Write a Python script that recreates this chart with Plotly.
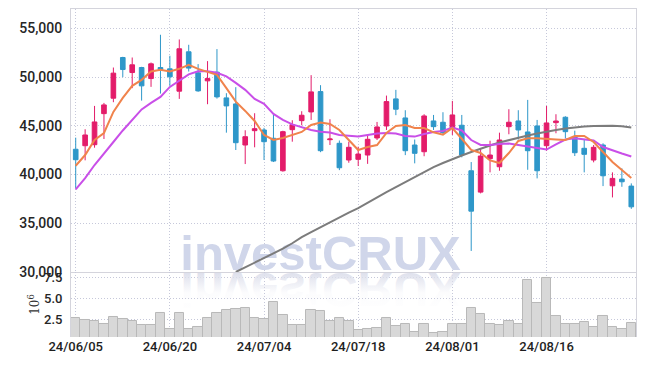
import plotly.graph_objects as go
from plotly.subplots import make_subplots

dates = [
    "24/06/05", "24/06/07", "24/06/10", "24/06/11", "24/06/12", "24/06/13", "24/06/14",
    "24/06/17", "24/06/18", "24/06/19", "24/06/20", "24/06/21", "24/06/24", "24/06/25",
    "24/06/26", "24/06/27", "24/06/28",
    "24/07/01", "24/07/02", "24/07/03", "24/07/04", "24/07/05", "24/07/08", "24/07/09",
    "24/07/10", "24/07/11", "24/07/12", "24/07/15", "24/07/16", "24/07/17", "24/07/18",
    "24/07/19", "24/07/22", "24/07/23", "24/07/24", "24/07/25", "24/07/26", "24/07/29",
    "24/07/30", "24/07/31",
    "24/08/01", "24/08/02", "24/08/05", "24/08/06", "24/08/07", "24/08/08", "24/08/09",
    "24/08/12", "24/08/13", "24/08/14", "24/08/16", "24/08/19", "24/08/20", "24/08/21",
    "24/08/22", "24/08/23", "24/08/26", "24/08/27", "24/08/28", "24/08/29",
]

open_ = [42600, 42965, 43068, 46258, 47843, 52021, 50477, 50992, 49860, 50992,
         50858, 48563, 52607, 50446, 49623, 50518, 47874, 47256, 43037, 44509,
         44581, 43727, 40393, 44612, 45538, 46433, 48522, 43583, 43212, 41494,
         41566, 42008, 43758, 44992, 47771, 45816, 43037, 42348, 45507, 45373,
         44786, 45064, 40393, 38201, 41628, 40805, 44920, 45507, 44375, 44993,
         42965, 45332, 45888, 43892, 42698, 41494, 43037, 38849, 39539, 38819]
high = [43790, 44653, 47050, 47359, 50992, 52093, 52021, 51064, 51506, 54356,
        52196, 53873, 53327, 51341, 51650, 52885, 48357, 48975, 44550, 46300,
        44800, 46227, 44500, 45580, 46505, 50209, 49180, 45682, 43500, 43377,
        42863, 44050, 45404, 48110, 48700, 46608, 43600, 46196, 46124, 46402,
        47565, 46124, 41288, 42698, 43480, 44303, 46711, 46608, 47668, 45610,
        47050, 46196, 45990, 44509, 43624, 43037, 43212, 40228, 40640, 39096]
low = [38580, 41463, 42760, 43655, 47431, 50003, 48872, 47596, 49006, 48316,
       49109, 47771, 50580, 48500, 47225, 47802, 44303, 42523, 41082, 42800,
       41494, 41288, 40300, 43377, 45064, 45610, 42300, 43037, 40460, 41216,
       40877, 41100, 43550, 44580, 46100, 42000, 41154, 41885, 44580, 44066,
       44066, 41772, 32161, 38068, 40228, 40393, 44138, 43600, 40493, 39611,
       42451, 44241, 43727, 41905, 40228, 41257, 38819, 37656, 38746, 36483]
close = [41525, 44066, 45404, 47153, 50415, 50786, 51270, 49109, 51372, 50786,
         50035, 52916, 50930, 48594, 49860, 47976, 47050, 43274, 43892, 44715,
         43377, 41391, 44406, 45126, 46093, 48491, 42451, 43652, 40702, 42800,
         42111, 43624, 44890, 47493, 46711, 42451, 42181, 46021, 44920, 44303,
         46124, 42008, 36246, 41905, 42008, 43552, 45373, 44581, 42451, 40393,
         45301, 45500, 44406, 42245, 42080, 42800, 39878, 39611, 39261, 36689]

ma_short = [40907, 42008, 43552, 44272, 46433, 47874, 49109, 49726, 50580, 50755,
            50580, 50858, 51270, 50858, 50549, 50240, 48872, 47493, 46536, 45507,
            44066, 43552, 43758, 44066, 44375, 45096, 45353, 45198, 44580, 43552,
            42523, 42832, 43037, 44272, 44992, 45096, 44786, 44786, 44340, 44100,
            44786, 43680, 42523, 42214, 41454, 41185, 42214, 43449, 43727, 43727,
            43700, 43600, 43552, 43963, 43963, 43346, 42317, 41288, 40465, 39640]
ma_mid = [38480, 39640, 40980, 42215, 43346, 44530, 45610, 46690, 47360, 47977,
          49000, 49620, 50290, 50600, 50600, 50450, 50090, 49420, 48700, 47770,
          47256, 46227, 45610, 45150, 44890, 44580, 44400, 44320, 44066, 43963,
          43900, 44066, 44220, 44270, 44220, 43963, 43900, 44170, 44375, 44480,
          44820, 44530, 43550, 43040, 43040, 43140, 43190, 43040, 42880, 42680,
          42570, 43090, 43600, 43730, 43650, 43500, 42830, 42470, 42160, 41850]
ma_long = [None] * 17 + [
    30000, 30480, 30950, 31360, 31870, 32390, 32950, 33570, 34085, 34600,
    35060, 35630, 36090, 36555, 37120, 37635, 38200, 38715, 39230, 39800,
    40310, 40775, 41185, 41600, 41957, 42317, 42677, 42986, 43295, 43552,
    43810, 44015, 44220, 44426, 44580, 44735, 44860, 44940, 44990, 45010,
    45020, 44960, 44840]

volume = [2.60, 2.40, 2.28, 1.88, 2.72, 2.48, 2.28, 1.76, 1.76, 3.20,
          1.28, 3.20, 1.28, 1.52, 2.60, 3.20, 3.56, 3.68, 3.80, 2.60,
          2.48, 4.52, 2.96, 1.76, 1.76, 3.56, 3.48, 2.25, 2.60, 2.28,
          1.20, 1.32, 1.40, 2.60, 1.68, 1.92, 0.96, 1.92, 0.84, 0.96,
          1.92, 1.92, 3.80, 3.12, 1.92, 1.76, 2.28, 1.92, 7.19, 4.44,
          7.40, 2.88, 1.92, 1.92, 2.16, 1.56, 2.84, 1.56, 1.32, 2.04]

tick_dates = ["24/06/05", "24/06/20", "24/07/04", "24/07/18", "24/08/01", "24/08/16"]
price_ticks = [30000, 35000, 40000, 45000, 50000, 55000]
vol_ticks = [2.5, 5.0, 7.5]

WATERMARK = "investCRUX"
WM_X = dates[26]
WM_PRICE_Y = 31435
WM_VOL_Y = 9.51

FONT = "Roboto, DejaVu Sans, sans-serif"
GRID = "#c6c8da"
FRAME = "#d4d4dc"

fig = make_subplots(rows=2, cols=1, shared_xaxes=True, vertical_spacing=0,
                    row_heights=[0.8018, 0.1982])

fig.add_trace(go.Scatter(x=[WM_X], y=[WM_PRICE_Y], mode="text", text=[WATERMARK],
                         textposition="middle center", hoverinfo="skip",
                         textfont=dict(family="Liberation Sans, Arial, sans-serif", size=49,
                                       weight="bold", color="rgb(208,214,234)")),
              row=1, col=1)
fig.add_trace(go.Scatter(x=[WM_X], y=[WM_VOL_Y], mode="text", text=[WATERMARK],
                         textposition="middle center", hoverinfo="skip",
                         textfont=dict(family="Liberation Sans, Arial, sans-serif", size=49,
                                       weight="bold", color="rgb(222,224,236)")),
              row=2, col=1)

fig.add_trace(go.Candlestick(
    x=dates, open=open_, high=high, low=low, close=close,
    increasing=dict(line=dict(color="#e31c6a", width=1), fillcolor="#e31c6a"),
    decreasing=dict(line=dict(color="#2e97c9", width=1), fillcolor="#2e97c9"),
    whiskerwidth=0), row=1, col=1)

fig.add_trace(go.Scatter(x=dates, y=ma_long, mode="lines",
                         line=dict(color="#7c7c7c", width=2)), row=1, col=1)
fig.add_trace(go.Scatter(x=dates, y=ma_mid, mode="lines",
                         line=dict(color="#c94fe8", width=2)), row=1, col=1)
fig.add_trace(go.Scatter(x=dates, y=ma_short, mode="lines",
                         line=dict(color="#f0834c", width=2)), row=1, col=1)

fig.add_trace(go.Bar(x=dates, y=volume, marker=dict(color="#d8d8d8",
                                                   line=dict(color="#b9b9b9", width=1))),
              row=2, col=1)

fig.update_layout(
    width=645, height=366,
    margin=dict(l=71, r=9, t=9, b=29, autoexpand=False),
    paper_bgcolor="white", plot_bgcolor="white",
    showlegend=False, bargap=0,
    font=dict(family=FONT, color="#333333"),
)

fig.update_xaxes(type="category", categoryorder="array", categoryarray=dates,
                 range=[-0.5, len(dates) - 0.5], autorange=False,
                 tickmode="array", tickvals=tick_dates, ticktext=tick_dates,
                 showgrid=True, gridcolor=GRID, griddash="1px,2px", gridwidth=1,
                 rangeslider=dict(visible=False), ticks="", automargin=False,
                 zeroline=False)
fig.update_xaxes(showline=True, mirror=True, linecolor=FRAME, linewidth=1,
                 showticklabels=False, row=1, col=1)
fig.update_xaxes(showline=False, showticklabels=True,
                 tickfont=dict(family=FONT, size=13, weight=500, color="#1e1e1e"),
                 row=2, col=1)

fig.update_yaxes(range=[30000, 57000], tickvals=price_ticks, tickformat=",",
                 showgrid=True, gridcolor=GRID, griddash="1px,2px", gridwidth=1,
                 showline=True, mirror=True, linecolor=FRAME, linewidth=1,
                 ticks="", zeroline=False, ticklabelstandoff=5, automargin=False,
                 tickfont=dict(family=FONT, size=14, weight=500, color="#262626"),
                 row=1, col=1)
fig.update_yaxes(range=[0.37, 8.16], tickvals=vol_ticks, tickformat=".1f",
                 showgrid=True, gridcolor=GRID, griddash="1px,2px", gridwidth=1,
                 showline=True, mirror=True, linecolor=FRAME, linewidth=1,
                 ticks="", zeroline=False, ticklabelstandoff=5, automargin=False,
                 title=dict(text="10<sup>6</sup>", standoff=1,
                            font=dict(family="DejaVu Serif, serif", size=12, color="#333333")),
                 tickfont=dict(family=FONT, size=13, weight=500, color="#262626"),
                 row=2, col=1)

post = """
document.body.style.margin = '0';
document.body.style.padding = '0';
var gd = document.getElementById('{plot_id}');
function wmMirror(){
  try {
    var svg = gd.querySelector('svg.main-svg');
    if(!svg) return;
    var ns = 'http://www.w3.org/2000/svg';
    if(!document.getElementById('wmfade')){
      var defs = svg.querySelector('defs');
      if(!defs){ defs = document.createElementNS(ns,'defs'); svg.insertBefore(defs, svg.firstChild); }
      var lg = document.createElementNS(ns,'linearGradient');
      lg.setAttribute('id','wmfade');
      lg.setAttribute('x1','0'); lg.setAttribute('y1','0');
      lg.setAttribute('x2','0'); lg.setAttribute('y2','1');
      [['0','0'],['0.45','0.1'],['0.82','1'],['1','1']].forEach(function(s){
        var st = document.createElementNS(ns,'stop');
        st.setAttribute('offset', s[0]);
        st.setAttribute('stop-color', 'rgb(222,224,236)');
        st.setAttribute('stop-opacity', s[1]);
        lg.appendChild(st);
      });
      defs.appendChild(lg);
    }
    gd.querySelectorAll('.x2y2 .textpoint text').forEach(function(t){
      var y = parseFloat(t.getAttribute('y')) || 0;
      t.setAttribute('transform', 'translate(0,' + (2*y) + ') scale(1,-1)');
      t.style.fill = 'url(#wmfade)';
    });
  } catch(e) {}
}
wmMirror();
gd.on('plotly_afterplot', wmMirror);
"""

fig.write_html("out.html", post_script=post, config={"displayModeBar": False})
